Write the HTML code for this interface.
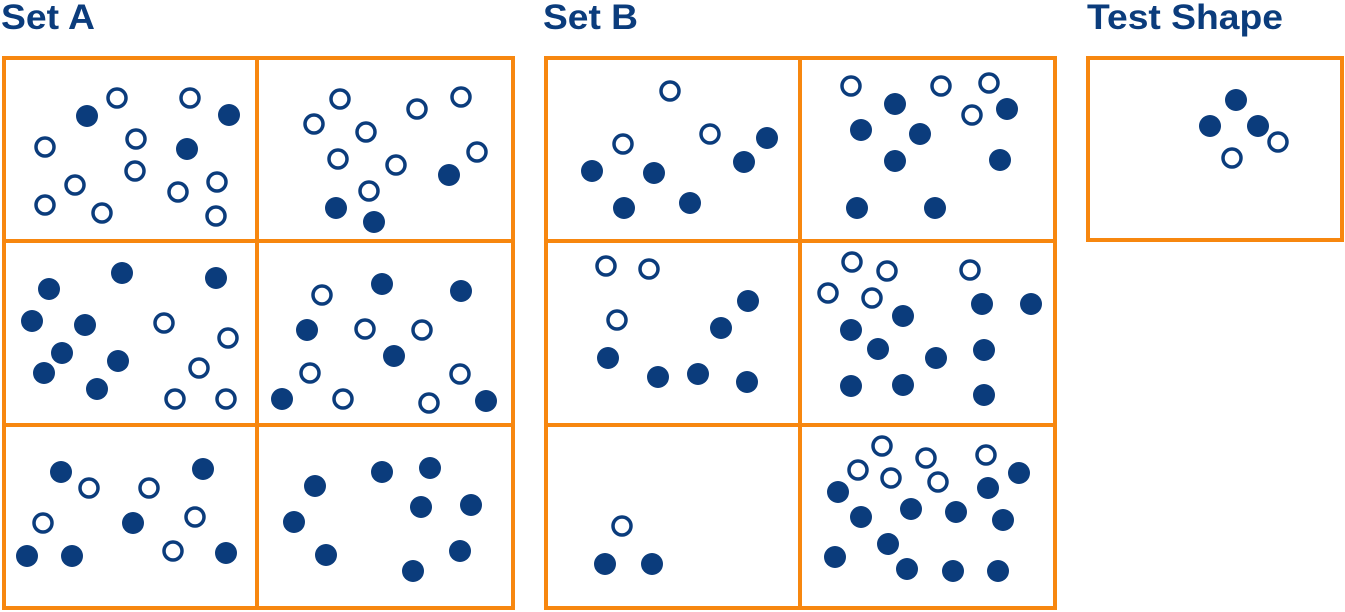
<!DOCTYPE html>
<html><head><style>body{margin:0;background:#fff}svg{display:block}</style></head><body>
<svg width="1345" height="612" xmlns="http://www.w3.org/2000/svg">
<g font-family="Liberation Sans, sans-serif" font-weight="bold" font-size="35" fill="#0b3c7c">
<text x="1" y="29" textLength="94" lengthAdjust="spacingAndGlyphs">Set A</text><text x="543" y="29" textLength="95" lengthAdjust="spacingAndGlyphs">Set B</text><text x="1087" y="29" textLength="196" lengthAdjust="spacingAndGlyphs">Test Shape</text>
</g>
<g stroke="#f7870f" stroke-width="4" fill="none">
<rect x="4" y="58" width="509" height="550"/>
<line x1="257" y1="58" x2="257" y2="608"/><line x1="4" y1="241" x2="513" y2="241"/><line x1="4" y1="425" x2="513" y2="425"/>
<rect x="546" y="58" width="509" height="550"/>
<line x1="800" y1="58" x2="800" y2="608"/><line x1="546" y1="241" x2="1055" y2="241"/><line x1="546" y1="425" x2="1055" y2="425"/>
<rect x="1088" y="58" width="254" height="182"/>
</g>
<g transform="translate(0,1)">
<g fill="#0b3c7c">
<circle cx="87" cy="115" r="11"/><circle cx="229" cy="114" r="11"/><circle cx="187" cy="148" r="11"/>
<circle cx="449" cy="174" r="11"/><circle cx="336" cy="207" r="11"/><circle cx="374" cy="221" r="11"/>
<circle cx="122" cy="272" r="11"/><circle cx="49" cy="288" r="11"/><circle cx="216" cy="277" r="11"/><circle cx="32" cy="320" r="11"/><circle cx="85" cy="324" r="11"/><circle cx="62" cy="352" r="11"/><circle cx="118" cy="360" r="11"/><circle cx="44" cy="372" r="11"/><circle cx="97" cy="388" r="11"/>
<circle cx="382" cy="283" r="11"/><circle cx="461" cy="290" r="11"/><circle cx="307" cy="329" r="11"/><circle cx="394" cy="355" r="11"/><circle cx="282" cy="398" r="11"/><circle cx="486" cy="400" r="11"/>
<circle cx="61" cy="471" r="11"/><circle cx="203" cy="468" r="11"/><circle cx="133" cy="522" r="11"/><circle cx="27" cy="555" r="11"/><circle cx="72" cy="555" r="11"/><circle cx="226" cy="552" r="11"/>
<circle cx="315" cy="485" r="11"/><circle cx="382" cy="471" r="11"/><circle cx="430" cy="467" r="11"/><circle cx="421" cy="506" r="11"/><circle cx="471" cy="504" r="11"/><circle cx="294" cy="521" r="11"/><circle cx="326" cy="554" r="11"/><circle cx="460" cy="550" r="11"/><circle cx="413" cy="570" r="11"/>
<circle cx="767" cy="137" r="11"/><circle cx="744" cy="161" r="11"/><circle cx="592" cy="170" r="11"/><circle cx="654" cy="172" r="11"/><circle cx="624" cy="207" r="11"/><circle cx="690" cy="202" r="11"/>
<circle cx="895" cy="103" r="11"/><circle cx="1007" cy="108" r="11"/><circle cx="861" cy="129" r="11"/><circle cx="920" cy="133" r="11"/><circle cx="895" cy="160" r="11"/><circle cx="1000" cy="159" r="11"/><circle cx="857" cy="207" r="11"/><circle cx="935" cy="207" r="11"/>
<circle cx="748" cy="300" r="11"/><circle cx="721" cy="327" r="11"/><circle cx="608" cy="357" r="11"/><circle cx="658" cy="376" r="11"/><circle cx="698" cy="373" r="11"/><circle cx="747" cy="381" r="11"/>
<circle cx="982" cy="303" r="11"/><circle cx="1031" cy="303" r="11"/><circle cx="903" cy="315" r="11"/><circle cx="851" cy="329" r="11"/><circle cx="878" cy="348" r="11"/><circle cx="936" cy="357" r="11"/><circle cx="984" cy="349" r="11"/><circle cx="851" cy="385" r="11"/><circle cx="903" cy="384" r="11"/><circle cx="984" cy="394" r="11"/>
<circle cx="605" cy="563" r="11"/><circle cx="652" cy="563" r="11"/>
<circle cx="1019" cy="472" r="11"/><circle cx="838" cy="491" r="11"/><circle cx="988" cy="487" r="11"/><circle cx="861" cy="516" r="11"/><circle cx="911" cy="508" r="11"/><circle cx="956" cy="511" r="11"/><circle cx="1003" cy="519" r="11"/><circle cx="888" cy="543" r="11"/><circle cx="835" cy="556" r="11"/><circle cx="907" cy="568" r="11"/><circle cx="953" cy="570" r="11"/><circle cx="998" cy="570" r="11"/>
<circle cx="1236" cy="99" r="11"/><circle cx="1210" cy="125" r="11"/><circle cx="1258" cy="125" r="11"/>
</g>
<g fill="none" stroke="#0b3c7c" stroke-width="3.5">
<circle cx="117" cy="97" r="9"/><circle cx="190" cy="97" r="9"/><circle cx="136" cy="138" r="9"/><circle cx="45" cy="146" r="9"/><circle cx="135" cy="170" r="9"/><circle cx="75" cy="184" r="9"/><circle cx="178" cy="191" r="9"/><circle cx="217" cy="181" r="9"/><circle cx="45" cy="204" r="9"/><circle cx="102" cy="212" r="9"/><circle cx="216" cy="215" r="9"/>
<circle cx="340" cy="98" r="9"/><circle cx="461" cy="96" r="9"/><circle cx="314" cy="123" r="9"/><circle cx="417" cy="108" r="9"/><circle cx="366" cy="131" r="9"/><circle cx="477" cy="151" r="9"/><circle cx="338" cy="158" r="9"/><circle cx="396" cy="164" r="9"/><circle cx="369" cy="190" r="9"/>
<circle cx="164" cy="322" r="9"/><circle cx="228" cy="337" r="9"/><circle cx="199" cy="367" r="9"/><circle cx="175" cy="398" r="9"/><circle cx="226" cy="398" r="9"/>
<circle cx="322" cy="294" r="9"/><circle cx="365" cy="328" r="9"/><circle cx="422" cy="329" r="9"/><circle cx="310" cy="372" r="9"/><circle cx="343" cy="398" r="9"/><circle cx="460" cy="373" r="9"/><circle cx="429" cy="402" r="9"/>
<circle cx="89" cy="487" r="9"/><circle cx="149" cy="487" r="9"/><circle cx="43" cy="522" r="9"/><circle cx="195" cy="516" r="9"/><circle cx="173" cy="550" r="9"/>
<circle cx="670" cy="90" r="9"/><circle cx="623" cy="143" r="9"/><circle cx="710" cy="133" r="9"/>
<circle cx="851" cy="85" r="9"/><circle cx="941" cy="85" r="9"/><circle cx="989" cy="82" r="9"/><circle cx="972" cy="114" r="9"/>
<circle cx="606" cy="265" r="9"/><circle cx="649" cy="268" r="9"/><circle cx="617" cy="319" r="9"/>
<circle cx="852" cy="261" r="9"/><circle cx="887" cy="270" r="9"/><circle cx="970" cy="269" r="9"/><circle cx="828" cy="292" r="9"/><circle cx="872" cy="297" r="9"/>
<circle cx="622" cy="525" r="9"/>
<circle cx="882" cy="445" r="9"/><circle cx="926" cy="457" r="9"/><circle cx="986" cy="454" r="9"/><circle cx="858" cy="469" r="9"/><circle cx="891" cy="477" r="9"/><circle cx="938" cy="481" r="9"/>
<circle cx="1278" cy="141" r="9"/><circle cx="1232" cy="157" r="9"/>
</g>
</g>
</svg>
</body></html>
